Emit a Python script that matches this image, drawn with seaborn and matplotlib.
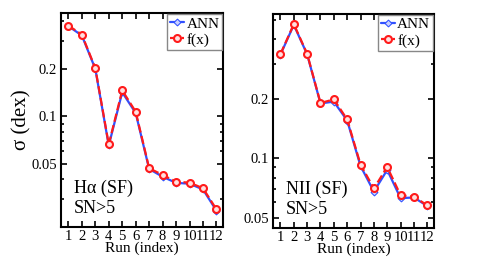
import matplotlib
matplotlib.use("Agg")
import matplotlib.pyplot as plt
import matplotlib.ticker as mticker
import seaborn as sns

# run index shared by both panels
runs = list(range(1, 13))

# H-alpha (SF) panel
ha_ann = [0.372, 0.325, 0.200, 0.0655, 0.142, 0.105, 0.0465, 0.0415, 0.0380, 0.0375, 0.0345, 0.0253]
ha_fx = [0.375, 0.329, 0.202, 0.0665, 0.146, 0.107, 0.0470, 0.0426, 0.0386, 0.0381, 0.0351, 0.0258]

# NII (SF) panel
nii_ann = [0.333, 0.470, 0.334, 0.189, 0.193, 0.155, 0.0915, 0.0680, 0.0874, 0.0630, 0.0635, 0.0575]
nii_fx = [0.335, 0.474, 0.336, 0.190, 0.198, 0.157, 0.0930, 0.0705, 0.0904, 0.0652, 0.0640, 0.0580]

y_ticks = [0.05, 0.1, 0.2]
y_tick_labels = ["0.05", "0.1", "0.2"]

BLUE = "#3050ff"
RED = "#ff1a1a"

sns.set_theme(style="ticks")
plt.rcParams["font.family"] = ["Liberation Serif", "DejaVu Serif"]
for key in ["text.color", "axes.labelcolor", "xtick.color", "ytick.color", "axes.edgecolor"]:
    plt.rcParams[key] = "black"


def draw_panel(ax, ann, fx, ylim, label):
    sns.lineplot(x=runs, y=ann, ax=ax, color=BLUE, lw=1.6, marker="D", ms=3.5,
                 mec=BLUE, mfc="#c8d0ff", label="ANN", zorder=3)
    sns.lineplot(x=runs, y=fx, ax=ax, color=RED, lw=1.6, linestyle="--", marker="o",
                 ms=5, mec=RED, mew=1.5, mfc="#ffe0e0", label="f(x)", zorder=4)
    ax.set_yscale("log")
    ax.set_ylim(*ylim)
    ax.set_xlim(0.45, 12.5)
    ax.set_xticks(runs)
    ax.set_xticklabels([str(r) for r in runs])
    ax.yaxis.set_major_locator(mticker.FixedLocator(y_ticks))
    ax.yaxis.set_major_formatter(mticker.FixedFormatter(y_tick_labels))
    minors = [v for v in [0.02, 0.03, 0.04, 0.06, 0.07, 0.08, 0.09, 0.3, 0.4, 0.5]
              if ylim[0] <= v <= ylim[1]]
    ax.yaxis.set_minor_locator(mticker.FixedLocator(minors))
    ax.yaxis.set_minor_formatter(mticker.NullFormatter())
    ax.tick_params(which="both", direction="in", top=True, right=True, width=1.2)
    ax.tick_params(which="major", length=4.5, pad=3)
    ax.tick_params(axis="y", which="major", labelsize=10.5)
    ax.tick_params(axis="x", which="major", labelsize=10.5, pad=2.5)
    ax.tick_params(which="minor", length=2.5)
    for sp in ax.spines.values():
        sp.set_linewidth(1.5)
        sp.set_color("black")
    ax.set_xlabel("Run (index)", fontsize=11, labelpad=0)
    ax.xaxis.set_label_coords(0.5, -0.07)
    ax.set_ylabel("")
    ax.text(0.08, 0.18, label, transform=ax.transAxes, fontsize=13, va="center")
    ax.text(0.08, 0.087, "SN>5", transform=ax.transAxes, fontsize=13, va="center")
    leg = ax.legend(loc="upper right", fontsize=11, handlelength=0.9, handletextpad=0.15,
                    borderpad=0.2, labelspacing=0.15, borderaxespad=0.05,
                    frameon=True, fancybox=False, framealpha=1)
    leg.get_frame().set_edgecolor("#888888")
    leg.get_frame().set_linewidth(1.0)


fig = plt.figure(figsize=(4.8, 2.62), dpi=100)
ax1 = fig.add_axes([0.127, 0.134, 0.338, 0.816])
ax2 = fig.add_axes([0.569, 0.130, 0.335, 0.817])

draw_panel(ax1, ha_ann, ha_fx, (0.02, 0.45), "H\u03b1 (SF)")
draw_panel(ax2, nii_ann, nii_fx, (0.0446, 0.534), "NII (SF)")

ax1.set_ylabel("\u03c3 (dex)", fontsize=15)
ax1.yaxis.set_label_coords(-0.18, 0.5)

fig.savefig("out.png", dpi=100)
